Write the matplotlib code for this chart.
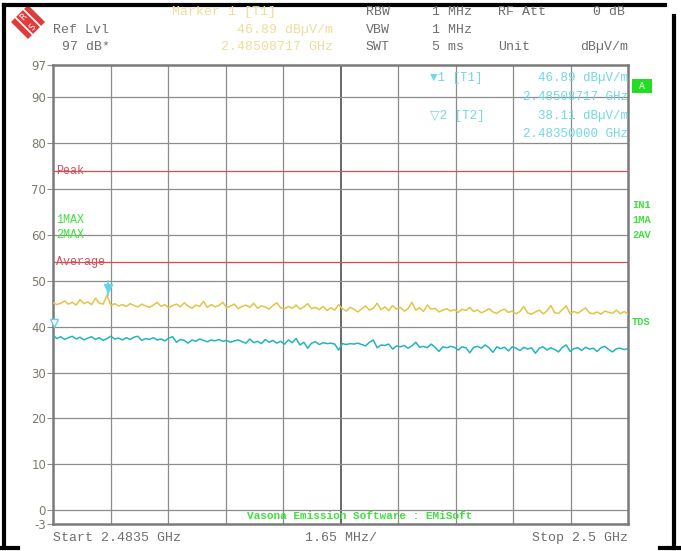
import numpy as np
import matplotlib.pyplot as plt
from matplotlib.patches import Polygon, Rectangle
from matplotlib.lines import Line2D

W, H = 681, 551

# frequency span (GHz) and reference values
f_start, f_stop = 2.4835, 2.5
peak_limit = 74.0
avg_limit = 54.0

# trace 1: max peak (yellow), trace 2: average (cyan)
trace_max = [
    45.2, 44.8, 45.1, 45.6, 44.9, 45.3, 44.7, 45.9, 45.0, 45.4,
    44.8, 46.2, 45.1, 44.9, 46.89, 44.6, 45.0, 44.5, 44.8, 44.4,
    45.0, 44.6, 44.3, 44.9, 44.5, 44.2, 44.7, 45.3, 44.4, 44.8,
    44.1, 44.6, 44.9, 44.3, 45.2, 44.5, 44.0, 44.7, 44.4, 45.5,
    44.2, 44.8, 44.3, 44.6, 45.3, 44.1, 44.5, 44.9, 43.9, 44.4,
    44.7, 44.2, 45.1, 44.0, 44.5, 44.3, 43.8, 44.6, 45.2, 44.1,
    43.9, 44.4, 44.0, 44.7, 43.8, 44.3, 45.0, 43.9, 44.2, 43.7,
    44.4, 43.5, 44.1, 43.6, 44.8, 43.9, 43.4, 44.2, 43.8, 43.2,
    43.9, 44.5, 43.6, 44.0, 45.1, 43.7, 44.3, 43.5, 44.6, 43.8,
    44.2, 43.4, 43.9, 45.3, 43.6, 44.1, 43.3, 44.7, 43.8, 44.0,
    43.2, 43.6, 43.9, 43.4, 43.7, 43.1, 43.8, 43.5, 44.2, 43.3,
    43.6, 43.0, 43.4, 43.9, 43.2, 42.9, 43.5, 43.8, 43.1, 43.4,
    42.8, 43.3, 44.4, 43.0, 42.7, 43.2, 43.6, 42.8, 43.4, 44.6,
    43.0, 42.9, 43.7, 44.5, 42.8, 43.3, 42.9, 43.5, 44.1, 43.0,
    42.8, 43.2, 42.7, 43.4, 43.1, 42.9, 43.6, 42.8, 43.3, 42.7,
]
trace_avg = [
    38.11, 37.4, 37.8, 37.2, 37.6, 37.9, 37.3, 37.7, 37.1, 37.5,
    37.8, 37.2, 37.6, 37.0, 37.4, 37.9, 37.3, 37.5, 37.1, 37.6,
    37.2, 37.7, 37.9, 37.0, 37.4, 37.2, 37.6, 37.1, 37.3, 36.9,
    37.5, 37.8, 36.6, 37.2, 37.0, 36.4, 37.1, 36.8, 37.3, 37.0,
    36.7, 37.1, 36.9, 37.2, 36.8, 37.0, 36.6, 36.9, 37.1, 36.7,
    36.4, 37.3, 36.5, 36.8, 36.3, 37.2, 36.6, 37.0, 36.4, 36.8,
    36.2, 37.1, 36.5, 37.4, 36.0, 36.6, 35.3, 36.4, 36.7, 36.1,
    36.5, 36.3, 36.4, 36.2, 34.9, 36.3, 36.1, 36.3, 36.2, 36.4,
    36.1, 35.8, 36.6, 37.1, 35.4, 36.0, 35.9, 36.2, 35.1, 35.8,
    35.6, 35.9, 35.3, 35.8, 36.6, 35.5, 35.7, 35.4, 36.2, 35.5,
    34.6, 35.6, 35.4, 35.7, 35.5, 34.9, 35.6, 35.4, 34.3, 35.5,
    35.7, 35.3, 36.0, 35.4, 34.4, 35.6, 35.2, 35.5, 34.7, 35.6,
    35.3, 34.8, 35.5, 35.1, 35.4, 34.2, 35.3, 35.6, 34.9, 35.4,
    35.0, 34.5, 35.5, 36.0, 34.6, 35.2, 35.4, 34.8, 35.5, 35.1,
    35.3, 34.6, 35.4, 35.7, 35.0, 34.5, 35.2, 35.3, 35.0, 35.2,
]
freq = np.linspace(f_start, f_stop, len(trace_max))

marker1_f, marker1_v = 2.48508717, 46.89
marker2_f, marker2_v = 2.48350000, 38.11

ytick_vals = [97, 90, 80, 70, 60, 50, 40, 30, 20, 10, 0, -3]

mono = ['Liberation Mono', 'DejaVu Sans']
gray_txt = '#6e6e6e'
yel_txt = '#eedd99'
cyan_txt = '#72d8e2'
green = '#3fe03f'


def px(x, y):
    # pixel coords (top-left origin) -> figure fraction
    return x / W, 1 - y / H


fig = plt.figure(figsize=(W / 100, H / 100), dpi=100)
fig.patch.set_facecolor('white')

ax = fig.add_axes([53 / W, 1 - 524 / H, 575 / W, 459 / H])
ax.set_xlim(f_start, f_stop)
ax.set_ylim(-3, 97)

# grid
for k in range(1, 10):
    xv = f_start + k * (f_stop - f_start) / 10
    ax.axvline(xv, color='#404040' if k == 5 else '#8c8c8c', lw=1.1 if k == 5 else 0.9, zorder=1)
for yv in range(0, 91, 10):
    ax.axhline(yv, color='#8c8c8c', lw=0.9, zorder=1)

# limit lines
ax.axhline(peak_limit, color='#e04a4a', lw=0.9, zorder=2)
ax.axhline(avg_limit, color='#e04a4a', lw=0.9, zorder=2)

# traces
ax.plot(freq, trace_max, color='#e2c446', lw=1.1, zorder=3)
ax.plot(freq, trace_avg, color='#22b4c0', lw=1.1, zorder=3)

# markers
ax.plot([marker1_f, marker1_f], [marker1_v, 50], color='#5fd6e6', lw=1.2, zorder=4)
ax.plot(marker1_f, marker1_v + 1.6, marker='v', ms=6, color='#5fd6e6', zorder=5)
ax.plot(marker2_f + 0.00003, marker2_v + 2.6, marker='v', ms=6, mfc='white', mec='#5fd6e6',
        clip_on=False, zorder=5)

ax.set_xticks([])
ax.set_yticks(ytick_vals)
ax.set_yticklabels([str(v) for v in ytick_vals], fontsize=8.5, color='#7d7a6a')
ax.tick_params(axis='y', length=4, width=0.8, color='#8c8c8c', pad=1)
for s in ax.spines.values():
    s.set_color('#7a7a7a')
    s.set_linewidth(1.8)

# labels inside the plot
lbl = dict(fontsize=8.5, family=mono, va='center', zorder=6)
ax.text(2.4836, peak_limit, 'Peak', color='#d0505e', **lbl)
ax.text(2.4836, avg_limit, 'Average', color='#d0505e', **lbl)
ax.text(2.4836, 63.3, '1MAX', color=green, **lbl)
ax.text(2.4836, 60.0, '2MAX', color=green, **lbl)

# marker table (top right of the grid)
mt = dict(fontsize=9, family=mono, color=cyan_txt, va='center')
fig.text(*px(430, 78), '\u25bc1 [T1]', **mt)
fig.text(*px(628, 78), '46.89 dB\u00b5V/m', ha='right', **mt)
fig.text(*px(628, 97), '2.48508717 GHz', ha='right', **mt)
fig.text(*px(430, 116), '\u25bd2 [T2]', **mt)
fig.text(*px(628, 116), '38.11 dB\u00b5V/m', ha='right', **mt)
fig.text(*px(628, 134), '2.48350000 GHz', ha='right', **mt)

# right side indicators
rt = dict(fontsize=7.5, family=mono, color=green, va='center', weight='bold')
fig.text(*px(632, 205), 'IN1', **rt)
fig.text(*px(632, 220), '1MA', **rt)
fig.text(*px(632, 235), '2AV', **rt)
fig.text(*px(632, 322), 'TDS', **rt)
bx, by = px(632, 93)
fig.patches.append(Rectangle((bx, by), 20 / W, 14 / H, transform=fig.transFigure,
                             facecolor='#22dd22', edgecolor='none'))
fig.text(*px(642, 86), 'A', fontsize=7, family=mono, color='white', ha='center', va='center')

# header
ht = dict(fontsize=9.5, family=mono, va='center')
fig.text(*px(53, 30), 'Ref Lvl', color=gray_txt, **ht)
fig.text(*px(62, 47), '97 dB*', color=gray_txt, **ht)
fig.text(*px(172, 12), 'Marker 1 [T1]', color=yel_txt, **ht)
fig.text(*px(333, 30), '46.89 dB\u00b5V/m', color=yel_txt, ha='right', **ht)
fig.text(*px(333, 47), '2.48508717 GHz', color=yel_txt, ha='right', **ht)
fig.text(*px(366, 12), 'RBW', color=gray_txt, **ht)
fig.text(*px(366, 30), 'VBW', color=gray_txt, **ht)
fig.text(*px(366, 47), 'SWT', color=gray_txt, **ht)
fig.text(*px(432, 12), '1 MHz', color=gray_txt, **ht)
fig.text(*px(432, 30), '1 MHz', color=gray_txt, **ht)
fig.text(*px(432, 47), '5 ms', color=gray_txt, **ht)
fig.text(*px(498, 12), 'RF Att', color=gray_txt, **ht)
fig.text(*px(498, 47), 'Unit', color=gray_txt, **ht)
fig.text(*px(625, 12), '0 dB', color=gray_txt, ha='right', **ht)
fig.text(*px(628, 47), 'dB\u00b5V/m', color=gray_txt, ha='right', **ht)

# footer
fig.text(*px(53, 538), 'Start 2.4835 GHz', color=gray_txt, **ht)
fig.text(*px(341, 538), '1.65 MHz/', color=gray_txt, ha='center', **ht)
fig.text(*px(628, 538), 'Stop 2.5 GHz', color=gray_txt, ha='right', **ht)
fig.text(*px(360, 516), 'Vasona Emission Software : EMiSoft', color=green,
         fontsize=8, family=mono, weight='bold', ha='center', va='center')

# R&S logo
cx, cy = 28, 22
diamond = [px(cx - 17, cy), px(cx, cy - 17), px(cx + 17, cy), px(cx, cy + 17)]
fig.patches.append(Polygon(diamond, closed=True, transform=fig.transFigure,
                           facecolor='#e03a3a', edgecolor='none'))
for d in (-4, 4):
    xs, ys = zip(px(cx - 12 + d, cy - 12 - d), px(cx + 12 + d, cy + 12 - d))
    fig.lines.append(Line2D(xs, ys, transform=fig.transFigure, color='white', lw=1.2))
fig.text(*px(cx - 5, cy - 5), 'R', fontsize=6, color='white', ha='center', va='center', rotation=45)
fig.text(*px(cx + 5, cy + 5), 'S', fontsize=6, color='white', ha='center', va='center', rotation=45)

# outer frame
def frame(x0, y0, x1, y1, lw=3):
    xs, ys = zip(px(x0, y0), px(x1, y1))
    fig.lines.append(Line2D(xs, ys, transform=fig.transFigure, color='black', lw=lw))

frame(4, 5, 4, 548)
frame(4, 5, 665, 5)
frame(674, 16, 674, 548)
frame(0, 548, 18, 548)
frame(660, 548, 681, 548)

fig.savefig('out.png', dpi=100, facecolor='white')
